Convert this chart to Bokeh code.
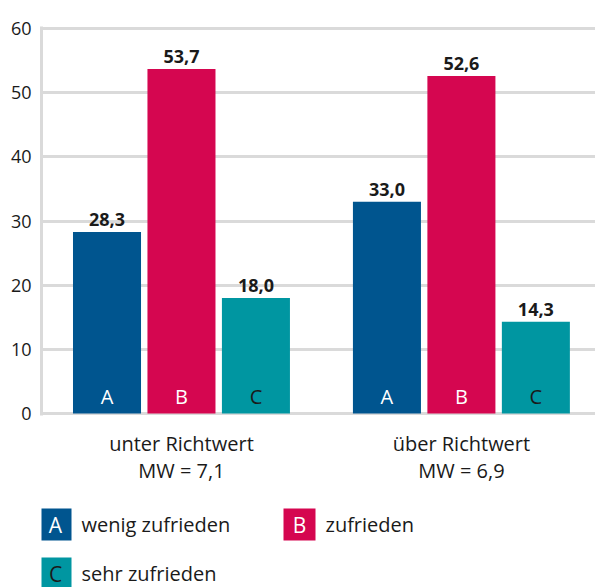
from bokeh.plotting import figure
from bokeh.models import ColumnDataSource, FixedTicker, Range1d
from bokeh.layouts import column
from bokeh.embed import file_html
from bokeh.resources import INLINE
from bokeh.core.properties import value

# ---- data ----
groups = ["unter Richtwert", "über Richtwert"]
group_sublabels = ["MW = 7,1", "MW = 6,9"]
series_keys = ["A", "B", "C"]
series_names = ["wenig zufrieden", "zufrieden", "sehr zufrieden"]
values_A = [28.3, 33.0]
values_B = [53.7, 52.6]
values_C = [18.0, 14.3]
y_ticks = [0, 10, 20, 30, 40, 50, 60]

# ---- styles ----
colors = ["#00558f", "#d50650", "#0096a1"]
letter_colors = ["#ffffff", "#ffffff", "#1a1a1a"]
FONT = "Open Sans"
TXT = "#1a1a1a"
GRID = "#dadada"

series_values = [values_A, values_B, values_C]
bar_offset = 0.266
bar_width = 0.243

p = figure(width=595, height=490,
           x_range=Range1d(-0.5, 1.479), y_range=Range1d(-0.31, 60.31),
           output_backend="svg", toolbar_location=None,
           min_border_left=41, min_border_right=0,
           min_border_top=26, min_border_bottom=75)
p.outline_line_color = None
p.background_fill_color = "white"
p.border_fill_color = "white"

for i, key in enumerate(series_keys):
    vals = series_values[i]
    xs = [g + (i - 1) * bar_offset for g in range(len(groups))]
    src = ColumnDataSource(dict(
        x=xs, top=vals,
        lbl=[f"{v:.1f}".replace(".", ",") for v in vals],
        key=[key] * len(vals),
        zero=[0] * len(vals),
    ))
    p.vbar(x="x", top="top", bottom=0, width=bar_width, source=src,
           fill_color=colors[i], line_color=None)
    p.text(x="x", y="top", text="lbl", source=src,
           text_font=value(FONT), text_font_style="bold",
           text_font_size="18px", text_color=TXT,
           text_align="center", text_baseline="bottom", y_offset=-6)
    p.text(x="x", y="zero", text="key", source=src,
           text_font=value(FONT), text_font_size="20px",
           text_color=letter_colors[i],
           text_align="center", text_baseline="bottom", y_offset=-4)

# grid
p.xgrid.visible = False
p.ygrid.ticker = FixedTicker(ticks=y_ticks)
p.ygrid.grid_line_color = GRID
p.ygrid.grid_line_width = 3
p.ygrid.level = "underlay"

# y axis
p.yaxis.ticker = FixedTicker(ticks=y_ticks)
p.yaxis.axis_line_color = GRID
p.yaxis.axis_line_width = 3
p.yaxis.major_tick_line_color = None
p.yaxis.minor_tick_line_color = None
p.yaxis.major_label_text_font = FONT
p.yaxis.major_label_text_font_size = "18px"
p.yaxis.major_label_text_color = TXT
p.yaxis.major_label_standoff = 4

# x axis
p.xaxis.ticker = FixedTicker(ticks=list(range(len(groups))))
p.xaxis.major_label_overrides = {i: f"{g}\n{s}" for i, (g, s) in enumerate(zip(groups, group_sublabels))}
p.xaxis.axis_line_color = None
p.xaxis.major_tick_line_color = None
p.xaxis.minor_tick_line_color = None
p.xaxis.major_label_text_font = FONT
p.xaxis.major_label_text_font_size = "20px"
p.xaxis.major_label_text_line_height = 1.0
p.xaxis.major_label_text_color = TXT
p.xaxis.major_label_standoff = 8

# ---- legend figure (its frame is aligned with the main frame, page x 41..595) ----
lg = figure(width=595, height=97, x_range=Range1d(41, 595), y_range=Range1d(0, 97),
            output_backend="svg", toolbar_location=None,
            x_axis_location=None, y_axis_location=None, min_border=0)
lg.outline_line_color = None
lg.xgrid.visible = False
lg.ygrid.visible = False

leg_x = [55, 299, 55]
leg_y = [63, 63, 14]
lsrc = ColumnDataSource(dict(
    x=leg_x, y=leg_y, tx=[x + 26 for x in leg_x],
    key=series_keys, name=series_names, color=colors, lc=letter_colors,
))
lg.rect(x="x", y="y", width=32, height=32, source=lsrc,
        fill_color="color", line_color=None)
lg.text(x="x", y="y", text="key", source=lsrc, text_color="lc",
        text_font=value(FONT), text_font_size="21px",
        text_align="center", text_baseline="middle")
lg.text(x="tx", y="y", text="name", source=lsrc, text_color=TXT,
        text_font=value(FONT), text_font_size="20px",
        text_align="left", text_baseline="middle")

layout = column(p, lg, spacing=0)
open("out.html", "w").write(file_html(layout, INLINE))
